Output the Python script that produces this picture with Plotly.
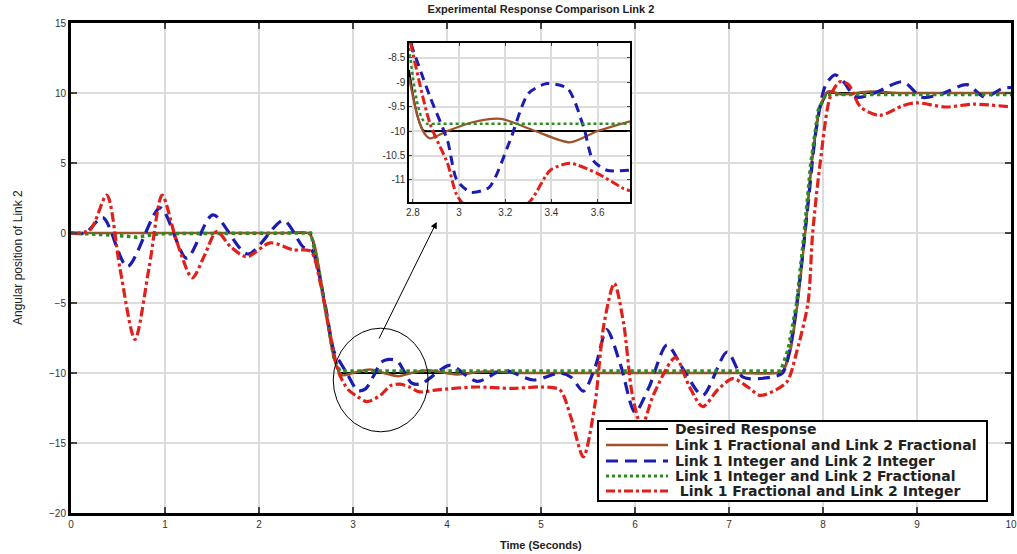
import plotly.graph_objects as go

# ---------------- data ----------------
t_des = [0, 2.55, 2.62, 2.72, 2.8, 2.85, 7.57, 7.65, 7.73, 7.81, 7.88, 7.96, 8.04, 10]
y_des = [0, 0, -2, -6, -9, -10, -10, -8.5, -5, 0, 5, 8.8, 10, 10]

t_ff = [0, 0.8, 1.6, 2.3, 2.52, 2.58, 2.64, 2.72, 2.8, 2.88, 3.0, 3.18, 3.33, 3.48, 3.62, 3.8, 4.1, 4.4, 4.8,
        5.5, 6.3, 7.1, 7.5, 7.58, 7.65, 7.73, 7.81, 7.88, 7.96, 8.05, 8.2, 8.5, 8.8, 9.3, 10]
y_ff = [0, 0, 0, 0, 0, -0.6, -2.6, -6, -9, -10.15, -10.0, -9.75, -10.0, -10.23, -10.0, -9.8, -10.1, -9.9, -10.0,
        -10.0, -10.0, -10.0, -10.0, -9.8, -8.5, -5, 0, 5, 8.8, 10.1, 9.9, 10.1, 10.0, 10.0, 10]

t_ii = [0, 0.15, 0.34, 0.6, 0.95, 1.23, 1.51, 1.88, 2.26, 2.47, 2.56, 2.7, 2.8, 2.87, 2.95, 3.05, 3.13, 3.22,
        3.3, 3.38, 3.47, 3.55, 3.62, 3.72, 3.85, 4.03, 4.32, 4.6, 4.92, 5.2, 5.32, 5.45, 5.58, 5.7, 5.85, 6.0,
        6.15, 6.34, 6.52, 6.72, 6.98, 7.15, 7.45, 7.57, 7.66, 7.75, 7.84, 7.93, 8.03, 8.13, 8.22, 8.35, 8.55,
        8.85, 9.05, 9.25, 9.53, 9.72, 9.9, 10]
y_ii = [0, 0, 1.1, -2.4, 1.8, -1.8, 1.3, -1.5, 0.9, -1.0, -1.2, -5, -8.5, -9.3, -10.2, -11.25, -11.15, -10.2,
        -9.23, -9.03, -9.13, -9.95, -10.7, -10.8, -10.2, -9.45, -10.6, -9.8, -10.5, -10.0, -10.3, -11.3, -9.5,
        -6.9, -9.5, -12.8, -11.0, -8.0, -9.8, -11.6, -8.5, -10.3, -10.3, -10.0, -7.8, -3.5, 2.0, 7.5, 10.6,
        11.3, 10.8, 9.7, 10.0, 10.8, 9.7, 9.9, 10.6, 9.7, 10.3, 10.4]

t_if = [0, 0.45, 0.7, 0.95, 2.55, 2.62, 2.72, 2.8, 2.86, 7.55, 7.63, 7.72, 7.8, 7.87, 7.95, 8.03, 10]
y_if = [0, -0.15, -0.3, -0.05, 0, -2, -6, -9, -9.85, -9.85, -8.3, -5, 0, 5, 8.8, 9.9, 9.9]

t_fi = [0, 0.2, 0.38, 0.52, 0.68, 0.83, 0.97, 1.12, 1.29, 1.42, 1.55, 1.7, 1.87, 2.12, 2.36, 2.55, 2.65, 2.75,
        2.85, 2.95, 3.05, 3.15, 3.29, 3.4, 3.5, 3.6, 3.71, 3.9, 4.3, 4.7, 5.0, 5.2, 5.32, 5.45, 5.57, 5.67,
        5.78, 5.88, 5.97, 6.07, 6.2, 6.43, 6.58, 6.72, 6.88, 7.04, 7.2, 7.33, 7.5, 7.62, 7.72, 7.84, 7.89,
        7.97, 8.08, 8.18, 8.27, 8.4, 8.6, 8.85, 9.0, 9.3, 9.6, 10]
y_fi = [0, 0.2, 2.7, -2.5, -7.6, -2.5, 2.7, -0.5, -3.2, -1.6, 0.1, -1.0, -1.7, -0.7, -1.2, -1.3, -3.5, -7,
        -10, -11.2, -11.7, -12.05, -11.6, -10.9, -10.8, -11.0, -11.35, -11.2, -11.0, -11.1, -11.0, -11.2,
        -13.2, -16.0, -12.4, -6.5, -3.6, -6.5, -11.5, -13.8, -11.5, -8.9, -11.0, -12.4, -11.2, -10.4, -11.0,
        -11.6, -11.2, -10.6, -8.5, -5, 0, 5, 9.8, 10.8, 10.6, 9.0, 8.4, 9.1, 9.3, 9.0, 9.2, 9.0]

# inset (zoomed) data
ti_des = [2.783, 2.80, 2.815, 2.83, 2.842, 2.85, 2.9, 3.2, 3.5, 3.74]
yi_des = [-8.75, -9.25, -9.6, -9.85, -9.97, -10.0, -10.0, -10.0, -10.0, -10.0]
ti_ff = [2.783, 2.82, 2.85, 2.874, 2.95, 3.05, 3.18, 3.33, 3.48, 3.6, 3.74]
yi_ff = [-8.9, -9.7, -10.05, -10.15, -10.0, -9.83, -9.75, -10.0, -10.23, -10.0, -9.8]
ti_ii = [2.79, 2.874, 2.95, 2.99, 3.05, 3.13, 3.22, 3.3, 3.38, 3.47, 3.54, 3.58, 3.64, 3.74]
yi_ii = [-8.2, -9.3, -10.2, -11.0, -11.25, -11.15, -10.2, -9.23, -9.03, -9.13, -9.93, -10.6, -10.8, -10.8]
ti_if = [2.783, 2.80, 2.82, 2.84, 2.86, 2.9, 3.1, 3.4, 3.74]
yi_if = [-8.3, -8.9, -9.45, -9.75, -9.85, -9.85, -9.85, -9.85, -9.85]
ti_fi = [2.79, 2.874, 2.95, 2.995, 3.15, 3.31, 3.395, 3.48, 3.6, 3.71, 3.74]
yi_fi = [-8.2, -9.85, -10.66, -11.35, -12.0, -11.42, -10.8, -10.66, -10.87, -11.17, -11.22]

names = ["Desired Response", "Link 1 Fractional and Link 2 Fractional", "Link 1 Integer and Link 2 Integer",
         "Link 1 Integer and Link 2 Fractional", " Link 1 Fractional and Link 2 Integer"]

# ---------------- styles ----------------
C_BLACK, C_BROWN, C_BLUE, C_GREEN, C_RED = "#000000", "#a0522d", "#1c1cb0", "#2e8b22", "#e0201b"
styles = [
    dict(color=C_BLACK, width=1.8, dash="solid"),
    dict(color=C_BROWN, width=2.5, dash="solid"),
    dict(color=C_BLUE, width=3.2, dash="12px,7px"),
    dict(color=C_GREEN, width=3.5, dash="dot"),
    dict(color=C_RED, width=3.2, dash="dashdot"),
]
shapes_kind = ["linear", "spline", "spline", "linear", "spline"]

fig = go.Figure()
for tx, ty, st, shp, nm in zip([t_des, t_ff, t_ii, t_if, t_fi], [y_des, y_ff, y_ii, y_if, y_fi],
                               styles, shapes_kind, names):
    ln = dict(st)
    ln["shape"] = shp
    if shp == "spline":
        ln["smoothing"] = 0.8
    fig.add_trace(go.Scatter(x=tx, y=ty, mode="lines", name=nm, line=ln, xaxis="x", yaxis="y",
                             showlegend=False))

inset_styles = [
    dict(color=C_BLACK, width=2, dash="solid"),
    dict(color=C_BROWN, width=2.2, dash="solid"),
    dict(color=C_BLUE, width=3, dash="9px,6px"),
    dict(color=C_GREEN, width=2.5, dash="dot"),
    dict(color=C_RED, width=3, dash="dashdot"),
]
for tx, ty, st in zip([ti_des, ti_ff, ti_ii, ti_if, ti_fi], [yi_des, yi_ff, yi_ii, yi_if, yi_fi], inset_styles):
    ln = dict(st)
    ln["shape"] = "spline"
    ln["smoothing"] = 0.7
    fig.add_trace(go.Scatter(x=tx, y=ty, mode="lines", line=ln, showlegend=False,
                             xaxis="x2", yaxis="y2", hoverinfo="skip"))

# ---------------- layout ----------------
L, R, T, B, W, H = 71, 6, 23, 41, 1017, 554
PW, PH = W - L - R, H - T - B


def px2x(px):
    return (px - L) / PW


def px2y(py):
    return (H - B - py) / PH


tickfont = dict(family="Arial, Liberation Sans, sans-serif", size=10, color="#333333")
axis_common = dict(showline=True, linecolor="black", mirror="ticks", ticks="inside",
                   showgrid=True, gridcolor="#dcdcdc", gridwidth=1.5, zeroline=False,
                   tickfont=tickfont, automargin=False)

shapes = [dict(type="circle", xref="x", yref="y", x0=2.79, x1=3.80, y0=-14.2, y1=-6.8,
               line=dict(color="black", width=1), layer="above")]
annotations = [
    dict(x=3.89, y=0.79, ax=3.27, ay=-7.64, xref="x", yref="y", axref="x", ayref="y",
         text="", showarrow=True, arrowhead=2, arrowsize=1.3, arrowwidth=1, arrowcolor="black"),
    dict(text="<b>Time (Seconds)</b>", x=0.5, y=px2y(545), xref="paper", yref="paper",
         xanchor="center", yanchor="middle", showarrow=False,
         font=dict(family="Arial, Liberation Sans, sans-serif", size=11, color="#222222")),
    dict(text="Angular position of Link 2", x=px2x(18), y=px2y(258), xref="paper", yref="paper",
         xanchor="center", yanchor="middle", showarrow=False, textangle=-90,
         font=dict(family="Liberation Sans Narrow, Arial Narrow, sans-serif", size=12, color="#222222")),
]

# legend box (boxed key in paper coordinates)
shapes.append(dict(type="rect", xref="paper", yref="paper", x0=px2x(598), x1=px2x(987),
                   y0=px2y(501), y1=px2y(421), fillcolor="white", line=dict(color="black", width=2),
                   layer="above"))
row_y = [429, 445, 461, 476, 491]
for st, nm, ry in zip(styles, names, row_y):
    lw = min(st["width"], 3)
    shapes.append(dict(type="line", xref="paper", yref="paper", x0=px2x(606), x1=px2x(668),
                       y0=px2y(ry), y1=px2y(ry), layer="above",
                       line=dict(color=st["color"], width=lw, dash=st["dash"])))
    label = nm.replace(" ", "&nbsp;", 1) if nm.startswith(" ") else nm
    annotations.append(dict(text="<b>" + label + "</b>",
                            x=px2x(673), y=px2y(ry), xref="paper", yref="paper", xanchor="left",
                            yanchor="middle", showarrow=False,
                            font=dict(family="DejaVu Sans, Verdana, sans-serif", size=14, color="#222222")))

fig.update_layout(
    width=W, height=H, autosize=False,
    margin=dict(l=L, r=R, t=T, b=B, autoexpand=False),
    paper_bgcolor="white", plot_bgcolor="white",
    showlegend=False,
    title=dict(text="<b>Experimental Response Comparison Link 2</b>", x=541 / W,
               xanchor="center", y=1 - 9 / H, yref="container", yanchor="middle",
               font=dict(family="Arial, Liberation Sans, sans-serif", size=11, color="#222222")),
    xaxis=dict(range=[0, 10], tickvals=list(range(0, 11)), linewidth=3, ticklen=6, tickwidth=2,
               domain=[0, 1], **axis_common),
    yaxis=dict(range=[-20, 15], tickvals=[-20, -15, -10, -5, 0, 5, 10, 15], linewidth=3, ticklen=6,
               tickwidth=2, domain=[0, 1], **axis_common),
    xaxis2=dict(range=[2.783, 3.74], tickvals=[2.8, 3, 3.2, 3.4, 3.6], ticktext=["2.8", "3", "3.2", "3.4", "3.6"],
                anchor="y2", domain=[px2x(409), px2x(630)], linewidth=1.5, ticklen=3, tickwidth=1,
                **axis_common),
    yaxis2=dict(range=[-11.45, -8.2], tickvals=[-11, -10.5, -10, -9.5, -9, -8.5],
                ticktext=["-11", "-10.5", "-10", "-9.5", "-9", "-8.5"],
                anchor="x2", domain=[px2y(202), px2y(43)], linewidth=1.5, ticklen=3, tickwidth=1,
                **axis_common),
    shapes=shapes,
    annotations=annotations,
)

fig.write_html("out.html", config={"responsive": False, "displayModeBar": False},
               default_width="1017px", default_height="554px",
               post_script="document.body.style.margin='0';document.body.style.overflow='hidden';")
